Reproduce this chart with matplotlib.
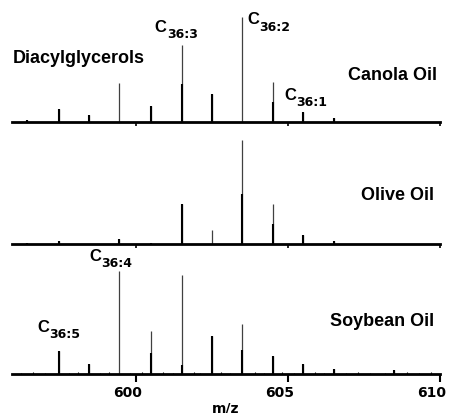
import numpy as np
import matplotlib
matplotlib.use('Agg')
import matplotlib.pyplot as plt
from matplotlib.transforms import ScaledTranslation

plt.rcParams['font.family'] = 'Liberation Sans'
plt.rcParams['font.weight'] = 'bold'

# spectra : m/z, relative intensity (profile) and centroid part
mz_canola = [596.4, 597.45, 598.45, 599.45, 600.5, 601.5, 602.5, 603.5, 604.5, 605.5, 606.5]
int_canola = [2, 12, 7, 37, 15, 73, 27, 100, 38, 10, 4]
core_canola = [2, 12, 7, 0, 15, 36, 27, 0, 19, 10, 4]

mz_olive = [596.4, 597.45, 599.45, 600.5, 601.5, 602.5, 603.5, 604.5, 605.5, 606.5]
int_olive = [1, 3, 5, 1, 38, 13, 99, 38, 9, 3]
core_olive = [1, 3, 5, 1, 38, 0, 48, 19, 9, 3]

mz_soy = [597.45, 598.45, 599.45, 600.5, 601.5, 602.5, 603.5, 604.5, 605.5, 606.5, 608.5]
int_soy = [22, 10, 98, 41, 94, 36, 48, 17, 10, 5, 4]
core_soy = [22, 10, 0, 20, 9, 36, 23, 17, 10, 5, 4]

noise_mz = [596.2, 596.6, 597.0, 597.8, 598.1, 598.8, 599.1, 599.8, 600.2, 600.9, 601.2,
            601.9, 602.1, 602.8, 603.1, 603.9, 604.2, 604.8, 605.2, 605.9, 606.2, 606.9,
            607.3, 607.7, 608.2, 608.9, 609.3, 609.7]
noise_int = [1, 1.5, 1, 1, 1.5, 1, 2, 1, 1.5, 2, 1, 1.5, 1, 2, 1, 1.5, 1, 2, 1, 1.5, 1,
             1, 1.5, 1, 1, 1.5, 1, 1.5]

xticks = [600, 605, 610]

W, H = 450, 414
x0, xw = 12/W, 428/W
hp = 120  # axes height in pixels
ytop = hp/1.05

fig = plt.figure(figsize=(4.5, 4.14), dpi=100)

def panel(base_px, mz, inten, core):
    ax = fig.add_axes([x0, (H-base_px)/H, xw, hp/H])
    ax.patch.set_alpha(0)
    ax.vlines(mz, 0, inten, color='#404040', lw=0.9)
    ax.vlines(mz, 0, core, color='k', lw=1.5)
    ax.set_xlim(595.92, 610)
    ax.set_ylim(0, ytop)
    for s in ['top', 'left', 'right']:
        ax.spines[s].set_visible(False)
    ax.spines['bottom'].set_linewidth(2)
    ax.set_yticks([])
    ax.set_xticks(xticks)
    return ax

ax1 = panel(123, mz_canola, int_canola, core_canola)
ax2 = panel(245, mz_olive, int_olive, core_olive)
for ax in [ax1, ax2]:
    ax.tick_params(axis='x', direction='out', length=3, width=1.2, labelbottom=False)

ax3 = panel(375, mz_soy, int_soy, core_soy)
ax3.vlines(noise_mz, 0, noise_int, color='k', lw=0.8)
ax3.tick_params(axis='x', direction='out', length=6, width=1.5, pad=2)
shift = ScaledTranslation(-8/100, 0, fig.dpi_scale_trans)
for lab in ax3.get_xticklabels():
    lab.set_family('DejaVu Sans')
    lab.set_fontweight('bold')
    lab.set_fontsize(10)
    lab.set_transform(lab.get_transform() + shift)
ax3.set_xlabel('m/z', fontsize=10, family='DejaVu Sans', fontweight='bold', labelpad=1)

fs = 13
ax1.text(595.96, 57, 'Diacylglycerols', fontsize=fs)
ax1.text(609.9, 41, 'Canola Oil', fontsize=fs, ha='right')
ax2.text(609.8, 43, 'Olive Oil', fontsize=fs, ha='right')
ax3.text(609.8, 47, 'Soybean Oil', fontsize=fs, ha='right')

def species(ax, x, y, sub):
    ax.text(x, y, 'C', fontsize=12)
    ax.annotate(sub, xy=(x, y), xytext=(8.6, -4.5), textcoords='offset points',
                fontsize=9, family='DejaVu Sans', fontweight='bold', va='baseline')

species(ax1, 600.62, 87, '36:3')
species(ax1, 603.65, 94, '36:2')
species(ax1, 604.87, 22, '36:1')
species(ax3, 598.45, 109, '36:4')
species(ax3, 596.74, 41, '36:5')

plt.savefig('out.png', dpi=100)
